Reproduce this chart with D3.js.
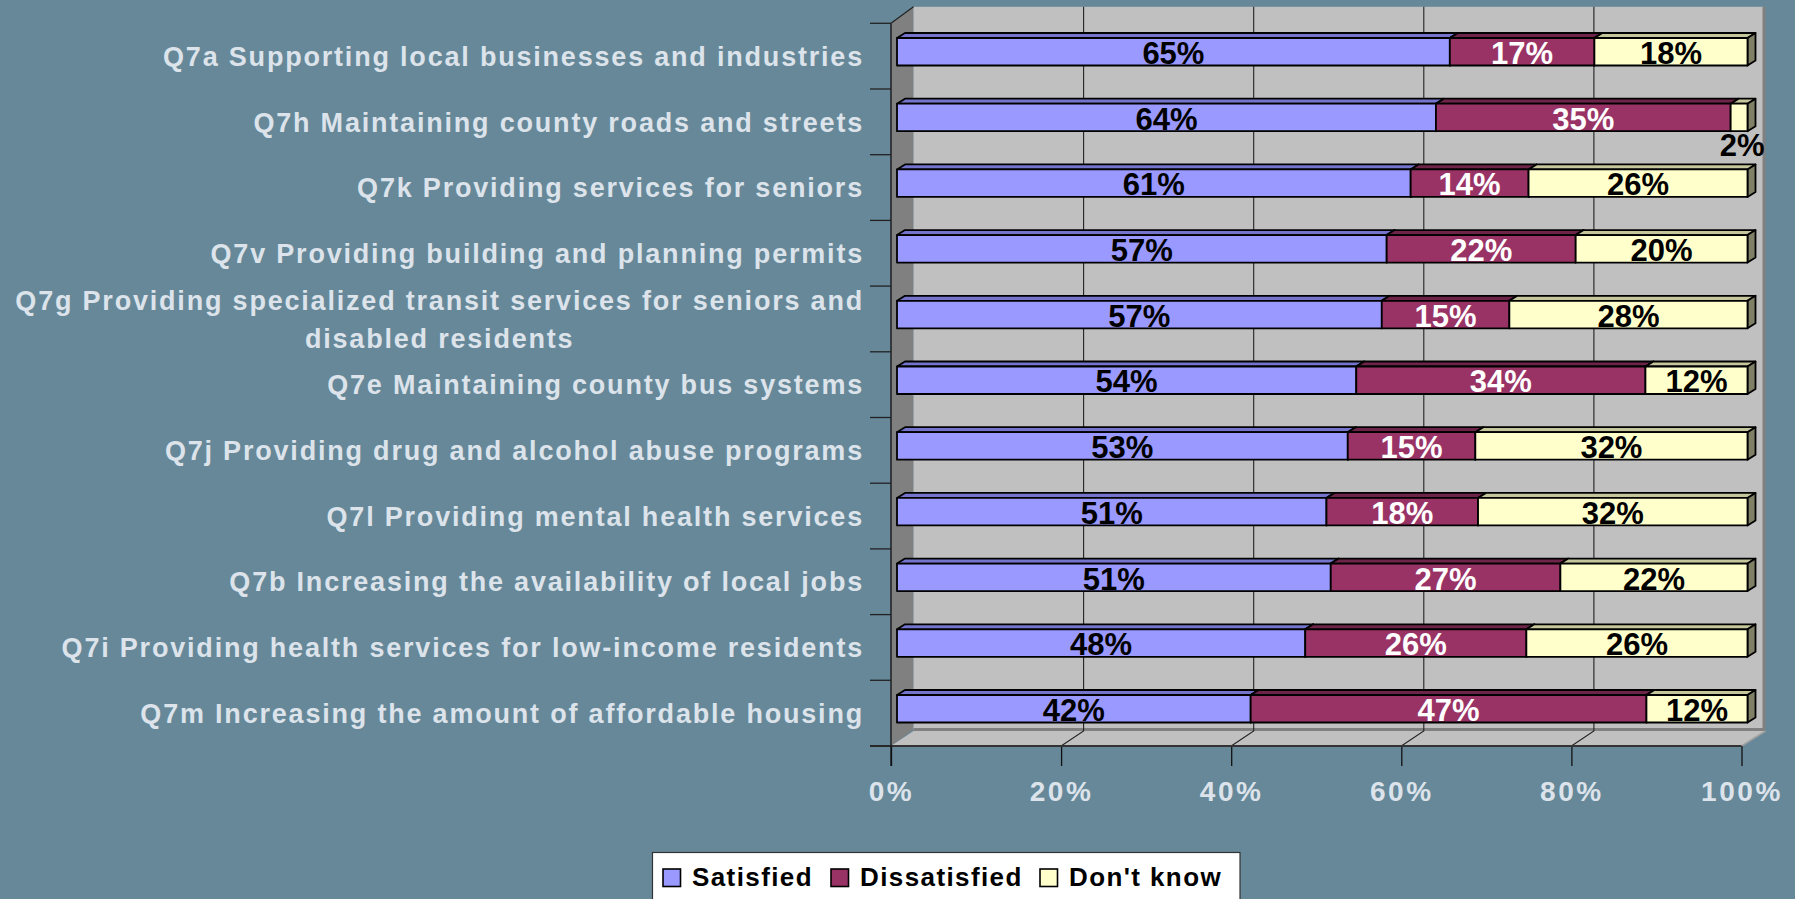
<!DOCTYPE html>
<html>
<head>
<meta charset="utf-8">
<script src="https://cdn.jsdelivr.net/npm/d3@7"></script>
<style>
  html, body { margin: 0; padding: 0; background: #668899; }
  svg { display: block; }
  text { font-family: "Liberation Sans", Arial, sans-serif; font-weight: bold; }
</style>
</head>
<body>
<svg id="chart" width="1795" height="899"></svg>
<script>
// Survey items, top to bottom
const categories = [
  "Q7a Supporting local businesses and industries",
  "Q7h Maintaining county roads and streets",
  "Q7k Providing services for seniors",
  "Q7v Providing building and planning permits",
  "Q7g Providing specialized transit services for seniors and disabled residents",
  "Q7e Maintaining county bus systems",
  "Q7j Providing drug and alcohol abuse programs",
  "Q7l Providing mental health services",
  "Q7b Increasing the availability of local jobs",
  "Q7i Providing health services for low-income residents",
  "Q7m Increasing the amount of affordable housing"
];
const seriesNames = ["Satisfied", "Dissatisfied", "Don't know"];
const satisfied    = [65, 64, 61, 57, 57, 54, 53, 51, 51, 48, 42];
const dissatisfied = [17, 35, 14, 22, 15, 34, 15, 18, 27, 26, 47];
const dontKnow     = [18,  2, 26, 20, 28, 12, 32, 32, 22, 26, 12];
const xTicks = [0, 0.2, 0.4, 0.6, 0.8, 1];

const seriesValues = [satisfied, dissatisfied, dontKnow];
const fills   = ["#9999FF", "#993366", "#FFFFCC"];
const tops    = ["#7474CC", "#6E2449", "#C6C69C"];
const sides   = ["#5C5C99", "#5A1D3C", "#808066"];
const labelColors = ["#000000", "#FFFFFF", "#000000"];
const axisText = "#DCE3EA";

const svg = d3.select("#chart");

// Front plane of the 3-D box
const plot = { left: 891, right: 1741.5, top: 23.3, bottom: 746 };
const depth = { x: 22.5, y: 16.5 };          // full box depth offset
const faceShift = { x: 6, y: 4.4 };          // bar front face offset into the box
const barDepth = { x: 8, y: 5 };             // bar thickness in depth
const barH = 27.5;

const x = d3.scaleLinear().domain([0, 1]).range([plot.left, plot.right]);
const y = d3.scaleBand().domain(categories).range([plot.top, plot.bottom]);

const bx = v => x(v) + depth.x;              // back-wall x
const backTop = plot.top - depth.y, backBottom = plot.bottom - depth.y;

// Side wall
svg.append("polygon")
  .attr("points", [[plot.left, plot.top], [bx(0), backTop], [bx(0), backBottom], [plot.left, plot.bottom]].join(" "))
  .attr("fill", "#808080");

// Back wall
svg.append("rect")
  .attr("x", bx(0)).attr("y", backTop)
  .attr("width", bx(1) - bx(0)).attr("height", backBottom - backTop)
  .attr("fill", "#C0C0C0");
svg.append("path")
  .attr("d", `M${bx(1)},${backTop}V${backBottom}H${bx(0)}`)
  .attr("fill", "none").attr("stroke", "#808080").attr("stroke-width", 3);

// Floor
svg.append("polygon")
  .attr("points", [[plot.left, plot.bottom], [bx(0), backBottom + 1.5], [bx(1) + 1.5, backBottom + 1.5], [x(1), plot.bottom]].join(" "))
  .attr("fill", "#C0C0C0");
svg.append("line")
  .attr("x1", x(1)).attr("y1", plot.bottom).attr("x2", bx(1) + 1.5).attr("y2", backBottom + 1.5)
  .attr("stroke", "#A0A0A0").attr("stroke-width", 1.5);

// Gridlines on back wall and floor
const grid = svg.append("g").attr("stroke", "#222").attr("stroke-width", 1.1).attr("fill", "none");
xTicks.filter(t => t > 0 && t < 1).forEach(t => {
  grid.append("path")
    .attr("d", `M${bx(t)},${backTop}V${backBottom + 1.5}L${x(t)},${plot.bottom}`);
});

// Bottom axis (front edge of floor)
const xAxis = d3.axisBottom(x).tickValues(xTicks).tickFormat(d3.format(".0%")).tickSize(20).tickPadding(15);
const gx = svg.append("g").attr("transform", `translate(0,${plot.bottom})`).call(xAxis);
gx.select(".domain").remove();
gx.selectAll(".tick line").attr("stroke", "#111").attr("stroke-width", 1.3);
gx.selectAll(".tick text")
  .attr("fill", axisText).attr("font-size", 28).attr("letter-spacing", "2.6px")
  .attr("font-family", "'Liberation Sans', Arial, sans-serif").attr("font-weight", "bold");

// Axis lines
svg.append("line").attr("x1", plot.left - 21).attr("x2", x(1)).attr("y1", plot.bottom).attr("y2", plot.bottom)
  .attr("stroke", "#333").attr("stroke-width", 2);
svg.append("line").attr("x1", plot.left).attr("x2", plot.left).attr("y1", plot.top).attr("y2", plot.bottom + 20)
  .attr("stroke", "#111").attr("stroke-width", 1.3);
svg.append("line").attr("x1", plot.left).attr("y1", plot.top).attr("x2", bx(0)).attr("y2", backTop)
  .attr("stroke", "#222").attr("stroke-width", 1.2);

// Category tick marks at band boundaries
const boundaries = categories.map(c => y(c)).concat([plot.bottom]);
svg.append("g").selectAll("line").data(boundaries).join("line")
  .attr("x1", plot.left - 21).attr("x2", plot.left)
  .attr("y1", d => d).attr("y2", d => d)
  .attr("stroke", "#222").attr("stroke-width", 1.3);

// Category labels (wrapped when too long, block right-aligned, lines centred)
const labelRight = 864, wrapWidth = 870, lineH = 38;
const catG = svg.append("g");
categories.forEach(cat => {
  const cy = y(cat) + y.bandwidth() / 2;
  const t = catG.append("text")
    .attr("fill", axisText).attr("font-size", 27).attr("letter-spacing", "1.8px");
  const words = cat.split(" ");
  const lines = [];
  let line = [];
  const probe = t.append("tspan");
  words.forEach(w => {
    line.push(w);
    probe.text(line.join(" "));
    if (probe.node().getComputedTextLength() > wrapWidth && line.length > 1) {
      line.pop();
      lines.push(line.join(" "));
      line = [w];
    }
  });
  lines.push(line.join(" "));
  probe.remove();
  const widths = lines.map(l => { const s = t.append("tspan").text(l); const w = s.node().getComputedTextLength(); s.remove(); return w; });
  const maxW = d3.max(widths);
  const cx = labelRight - maxW / 2;
  t.attr("text-anchor", "middle");
  lines.forEach((l, i) => {
    t.append("tspan")
      .attr("x", cx)
      .attr("y", cy + (i - (lines.length - 1) / 2) * lineH)
      .attr("dy", "0.36em")
      .text(l);
  });
});

// Stacked 3-D bars (values normalised per row, as in a 100% stacked bar)
const barsG = svg.append("g").attr("stroke", "#000").attr("stroke-width", 1.8).attr("stroke-linejoin", "round");
const labelsG = svg.append("g").attr("text-anchor", "middle").attr("font-size", 31);
categories.forEach((cat, i) => {
  const vals = seriesValues.map(s => s[i]);
  const total = d3.sum(vals);
  const cy = y(cat) + y.bandwidth() / 2 - faceShift.y;
  const top = cy - barH / 2, bottom = cy + barH / 2;
  let cum = 0;
  vals.forEach((v, k) => {
    const x0 = x(cum / total) + faceShift.x;
    cum += v;
    const x1 = x(cum / total) + faceShift.x;
    // top face
    barsG.append("polygon")
      .attr("points", [[x0, top], [x1, top], [x1 + barDepth.x, top - barDepth.y], [x0 + barDepth.x, top - barDepth.y]].join(" "))
      .attr("fill", tops[k]);
    // right face
    barsG.append("polygon")
      .attr("points", [[x1, top], [x1 + barDepth.x, top - barDepth.y], [x1 + barDepth.x, bottom - barDepth.y], [x1, bottom]].join(" "))
      .attr("fill", sides[k]);
    // front face
    barsG.append("rect")
      .attr("x", x0).attr("y", top).attr("width", x1 - x0).attr("height", barH)
      .attr("fill", fills[k]);
    // value label
    const narrow = (x1 - x0) < 40;
    labelsG.append("text")
      .attr("x", (x0 + x1) / 2 + (narrow ? 3 : 0))
      .attr("y", narrow ? bottom + 14 : cy + 1)
      .attr("dy", "0.36em")
      .attr("fill", narrow ? "#000" : labelColors[k])
      .text(v + "%");
  });
});

// Legend
const legend = svg.append("g");
legend.append("rect")
  .attr("x", 652.5).attr("y", 852.5).attr("width", 587.5).attr("height", 60)
  .attr("fill", "#FFFFFF").attr("stroke", "#333").attr("stroke-width", 1.2);
const legendX = [663, 831, 1040];
seriesNames.forEach((name, k) => {
  legend.append("rect")
    .attr("x", legendX[k]).attr("y", 869).attr("width", 17.5).attr("height", 17.5)
    .attr("fill", fills[k]).attr("stroke", "#000").attr("stroke-width", 1.6);
  legend.append("text")
    .attr("x", legendX[k] + 29).attr("y", 886)
    .attr("font-size", 26).attr("letter-spacing", "1.4px").attr("fill", "#000")
    .text(name);
});
</script>
</body>
</html>
